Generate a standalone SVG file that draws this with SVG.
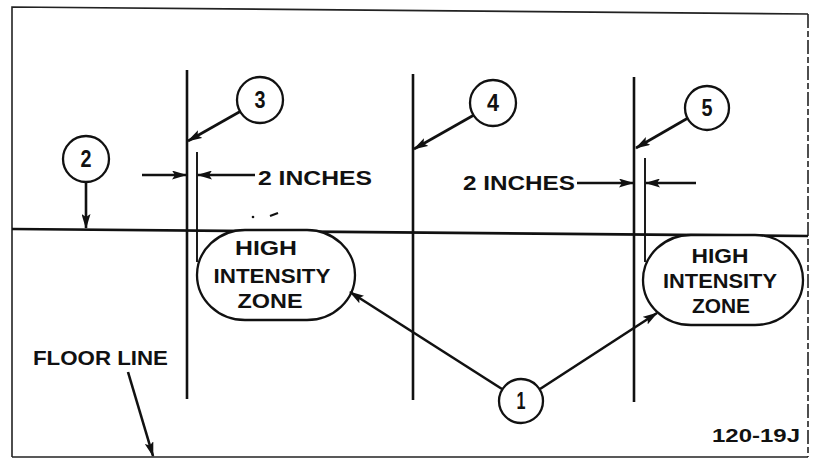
<svg xmlns="http://www.w3.org/2000/svg" width="820" height="460" viewBox="0 0 820 460">
<defs>
<marker id="ah" markerUnits="userSpaceOnUse" markerWidth="15" markerHeight="9" refX="14" refY="4.5" orient="auto">
<path d="M0,0 L15,4.5 L0,9 L3,4.5 z" fill="#111"/>
</marker>
<style>
.ln{stroke:#111;stroke-width:2.6;fill:none}
.thin{stroke:#111;stroke-width:1.9;fill:none}
.bd{stroke:#222;stroke-width:1.6;fill:none}
.cir{stroke:#111;stroke-width:2.3;fill:#fff}
.num{font-family:"Liberation Sans",Arial,sans-serif;font-weight:bold;font-size:23px;fill:#111;text-anchor:middle}
.lbl{font-family:"Liberation Sans",Arial,sans-serif;font-weight:bold;font-size:20px;fill:#111}
.zone{font-family:"Liberation Sans",Arial,sans-serif;font-weight:bold;font-size:20px;fill:#111;text-anchor:middle}
.arr{stroke:#111;stroke-width:2.6;fill:none;marker-end:url(#ah)}
</style>
</defs>
<rect width="820" height="460" fill="#fff"/>
<g id="frame">
<path class="bd" d="M12,457 L12,7 L808,14"/>
<path class="bd" d="M808,14 L808,457" stroke-dasharray="14,3,6,3"/>
<path class="bd" d="M12,457 L808,457"/>
<path class="ln" d="M12,229 L808,236"/>
</g>
<g id="posts">
<line class="ln" x1="187" y1="70" x2="187" y2="399"/>
<line class="thin" x1="197" y1="152" x2="197" y2="262"/>
<line class="ln" x1="413" y1="74" x2="413" y2="400"/>
<line class="ln" x1="634" y1="77" x2="634" y2="402"/>
<line class="thin" x1="645" y1="158" x2="645" y2="262"/>
<circle cx="253" cy="217" r="1.3" fill="#111"/>
<path d="M270,216 L278,213" stroke="#111" stroke-width="2.2"/>
</g>
<g id="zone-left">
<rect class="cir" x="197" y="230" width="158" height="90" rx="48" ry="45"/>
<text class="zone" x="266" y="255" textLength="62" lengthAdjust="spacingAndGlyphs">HIGH</text>
<text class="zone" x="272" y="283" textLength="117" lengthAdjust="spacingAndGlyphs">INTENSITY</text>
<text class="zone" x="270" y="308" textLength="65" lengthAdjust="spacingAndGlyphs">ZONE</text>
</g>
<g id="zone-right">
<rect class="cir" x="643" y="235" width="160" height="90" rx="48" ry="45"/>
<text class="zone" x="720" y="263" textLength="57" lengthAdjust="spacingAndGlyphs">HIGH</text>
<text class="zone" x="720" y="288" textLength="114" lengthAdjust="spacingAndGlyphs">INTENSITY</text>
<text class="zone" x="721" y="313" textLength="58" lengthAdjust="spacingAndGlyphs">ZONE</text>
</g>
<g id="connectors">
<line class="arr" x1="86" y1="182" x2="86" y2="228"/>
<line class="arr" x1="241" y1="111" x2="188" y2="141"/>
<line class="arr" x1="474" y1="115" x2="414" y2="149"/>
<line class="arr" x1="688" y1="118" x2="636" y2="148"/>
<line class="arr" x1="142" y1="175" x2="186" y2="175"/>
<line class="arr" x1="255" y1="175" x2="198" y2="175"/>
<line class="arr" x1="577" y1="183" x2="633" y2="183"/>
<line class="arr" x1="696" y1="183" x2="646" y2="183"/>
<line class="arr" x1="502" y1="389" x2="350" y2="292"/>
<line class="arr" x1="540" y1="389" x2="657" y2="313"/>
<line class="arr" x1="128" y1="372" x2="153" y2="456"/>
</g>
<g id="n1"><circle class="cir" cx="521" cy="401" r="22"/><text class="num" x="521" y="409" textLength="9" lengthAdjust="spacingAndGlyphs">1</text></g>
<g id="n2"><circle class="cir" cx="86" cy="159" r="23"/><text class="num" x="86" y="167" textLength="11" lengthAdjust="spacingAndGlyphs">2</text></g>
<g id="n3"><circle class="cir" cx="260" cy="100" r="23"/><text class="num" x="260" y="108" textLength="11" lengthAdjust="spacingAndGlyphs">3</text></g>
<g id="n4"><circle class="cir" cx="493" cy="103" r="23"/><text class="num" x="493" y="111" textLength="12" lengthAdjust="spacingAndGlyphs">4</text></g>
<g id="n5"><circle class="cir" cx="707" cy="108" r="22"/><text class="num" x="707" y="116" textLength="11" lengthAdjust="spacingAndGlyphs">5</text></g>
<g id="labels">
<text class="lbl" x="258" y="185" textLength="114" lengthAdjust="spacingAndGlyphs">2 INCHES</text>
<text class="lbl" x="463" y="190" textLength="112" lengthAdjust="spacingAndGlyphs">2 INCHES</text>
<text class="lbl" x="33" y="365" textLength="135" lengthAdjust="spacingAndGlyphs">FLOOR LINE</text>
<text x="712" y="442" textLength="88" lengthAdjust="spacingAndGlyphs" style="font-family:'Liberation Sans',Arial,sans-serif;font-weight:bold;font-size:19px;fill:#111">120-19J</text>
</g>
</svg>
